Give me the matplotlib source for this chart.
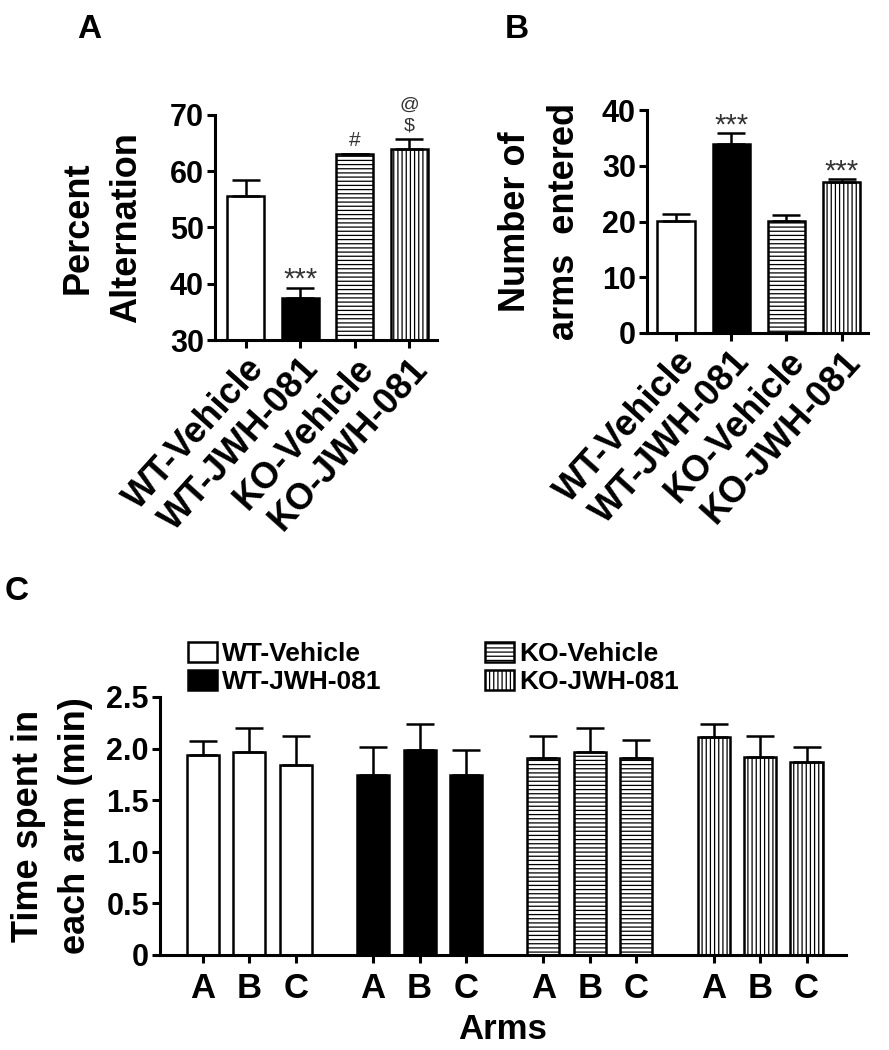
import numpy as np
import matplotlib
matplotlib.use("Agg")
import matplotlib.pyplot as plt

# values
groups = ["WT-Vehicle", "WT-JWH-081", "KO-Vehicle", "KO-JWH-081"]
alt_mean = [55.6, 37.4, 63.0, 63.9]
alt_sem = [2.8, 1.9, 0.0, 1.9]
alt_marks = ["", "***", "#", "@\n$"]

arms_mean = [20.1, 33.9, 20.1, 27.0]
arms_sem = [1.2, 1.9, 1.1, 0.6]
arms_marks = ["", "***", "", "***"]

arm_labels = ["A", "B", "C"]
wt_veh_time = [1.94, 1.97, 1.84]
wt_veh_sem = [0.13, 0.23, 0.28]
wt_jwh_time = [1.74, 1.99, 1.74]
wt_jwh_sem = [0.28, 0.25, 0.25]
ko_veh_time = [1.91, 1.97, 1.91]
ko_veh_sem = [0.21, 0.23, 0.17]
ko_jwh_time = [2.11, 1.92, 1.87]
ko_jwh_sem = [0.13, 0.20, 0.15]

FACES = ["white", "black", "white", "white"]
HATCHES = [None, None, "----", "||||"]
# font size and offset (points) for each kind of significance mark
MARK_STYLE = {"***": (21, -4.5), "#": (15, 3), "@\n$": (14, 3)}

plt.rcParams["font.family"] = ["Liberation Sans", "DejaVu Sans"]
plt.rcParams["font.weight"] = "bold"
plt.rcParams["axes.labelweight"] = "bold"
plt.rcParams["hatch.linewidth"] = 0.9
plt.rcParams["axes.linewidth"] = 2.2

fig = plt.figure(figsize=(8.89, 10.5), dpi=100)


def style_axes(ax, ytick_size, xtick_size, xpad):
    for s in ["top", "right"]:
        ax.spines[s].set_visible(False)
    ax.tick_params(axis="both", direction="out", length=6, width=2.2)
    ax.tick_params(axis="y", labelsize=ytick_size, pad=2)
    ax.tick_params(axis="x", labelsize=xtick_size, pad=xpad)


def bar_panel(ax, mean, sem, marks, ylim, yticks, ylabel, label_x, xlim):
    x = np.arange(len(groups))
    for i in range(len(groups)):
        ax.bar(x[i], mean[i], width=0.68, color=FACES[i], edgecolor="black",
               linewidth=1.8, hatch=HATCHES[i], zorder=2)
    ax.errorbar(x, mean, yerr=[np.zeros(len(x)), sem], fmt="none",
                ecolor="black", elinewidth=1.8, capsize=10, capthick=1.8, zorder=3)
    for i, m in enumerate(marks):
        if m:
            size, off = MARK_STYLE[m]
            ax.annotate(m, (x[i], mean[i] + sem[i]), xytext=(0, off),
                        textcoords="offset points", ha="center", va="bottom",
                        fontsize=size, fontweight="normal", color="#333333",
                        linespacing=1.3, annotation_clip=False)
    ax.set_ylim(*ylim)
    ax.set_yticks(yticks)
    ax.set_xlim(*xlim)
    ax.set_xticks(x)
    ax.set_xticklabels(groups, rotation=48, ha="right", rotation_mode="anchor")
    style_axes(ax, 22, 26, 2)
    ax.set_ylabel(ylabel, fontsize=26, linespacing=1.5)
    ax.yaxis.set_label_coords(label_x, 0.5)


# panel A
axA = fig.add_axes([215 / 889, 1 - 340 / 1050, 222 / 889, 225 / 1050])
bar_panel(axA, alt_mean, alt_sem, alt_marks, (30, 70), [30, 40, 50, 60, 70],
          "Percent\nAlternation", -0.32, (-0.56, 3.51))

# panel B
axB = fig.add_axes([647 / 889, 1 - 333 / 1050, 221 / 889, 223 / 1050])
bar_panel(axB, arms_mean, arms_sem, arms_marks, (0, 40), [0, 10, 20, 30, 40],
          "Number of\narms  entered", -0.295, (-0.53, 3.48))

# panel C
axC = fig.add_axes([160 / 889, 1 - 955 / 1050, 686 / 889, 258 / 1050])
series = [(wt_veh_time, wt_veh_sem), (wt_jwh_time, wt_jwh_sem),
          (ko_veh_time, ko_veh_sem), (ko_jwh_time, ko_jwh_sem)]
gap = 3.665
handles = []
all_x = []
for g, (vals, errs) in enumerate(series):
    xs = g * gap + np.arange(len(arm_labels))
    all_x.extend(xs)
    bc = axC.bar(xs, vals, width=0.69, color=FACES[g], edgecolor="black",
                 linewidth=1.8, hatch=HATCHES[g], zorder=2, label=groups[g])
    handles.append(bc)
    axC.errorbar(xs, vals, yerr=[np.zeros(len(xs)), errs], fmt="none",
                 ecolor="black", elinewidth=1.8, capsize=10, capthick=1.8, zorder=3)
axC.set_ylim(0, 2.5)
axC.set_yticks([0, 0.5, 1.0, 1.5, 2.0, 2.5])
axC.set_yticklabels(["0", "0.5", "1.0", "1.5", "2.0", "2.5"])
axC.set_xlim(-0.925, 3 * gap + 2 + 0.85)
axC.set_xticks(all_x)
axC.set_xticklabels(arm_labels * 4)
style_axes(axC, 22, 25, 6)
axC.set_xlabel("Arms", fontsize=25, labelpad=6)
axC.set_ylabel("Time spent in\neach arm (min)", fontsize=26, linespacing=1.45)
axC.yaxis.set_label_coords(-0.097, 0.5)
axC.legend(handles, groups, ncol=2, loc="lower left",
           bbox_to_anchor=(0.041, 1.01), frameon=False, fontsize=19,
           handlelength=1.1, handleheight=0.8, handletextpad=0.2,
           columnspacing=3.9, labelspacing=0.15, borderpad=0, borderaxespad=0)

# panel letters
fig.text(77 / 889, 1 - 38 / 1050, "A", fontsize=24, fontweight="bold", va="baseline")
fig.text(505 / 889, 1 - 38 / 1050, "B", fontsize=24, fontweight="bold", va="baseline")
fig.text(5 / 889, 1 - 600 / 1050, "C", fontsize=24, fontweight="bold", va="baseline")

fig.savefig("out.png", dpi=100)
